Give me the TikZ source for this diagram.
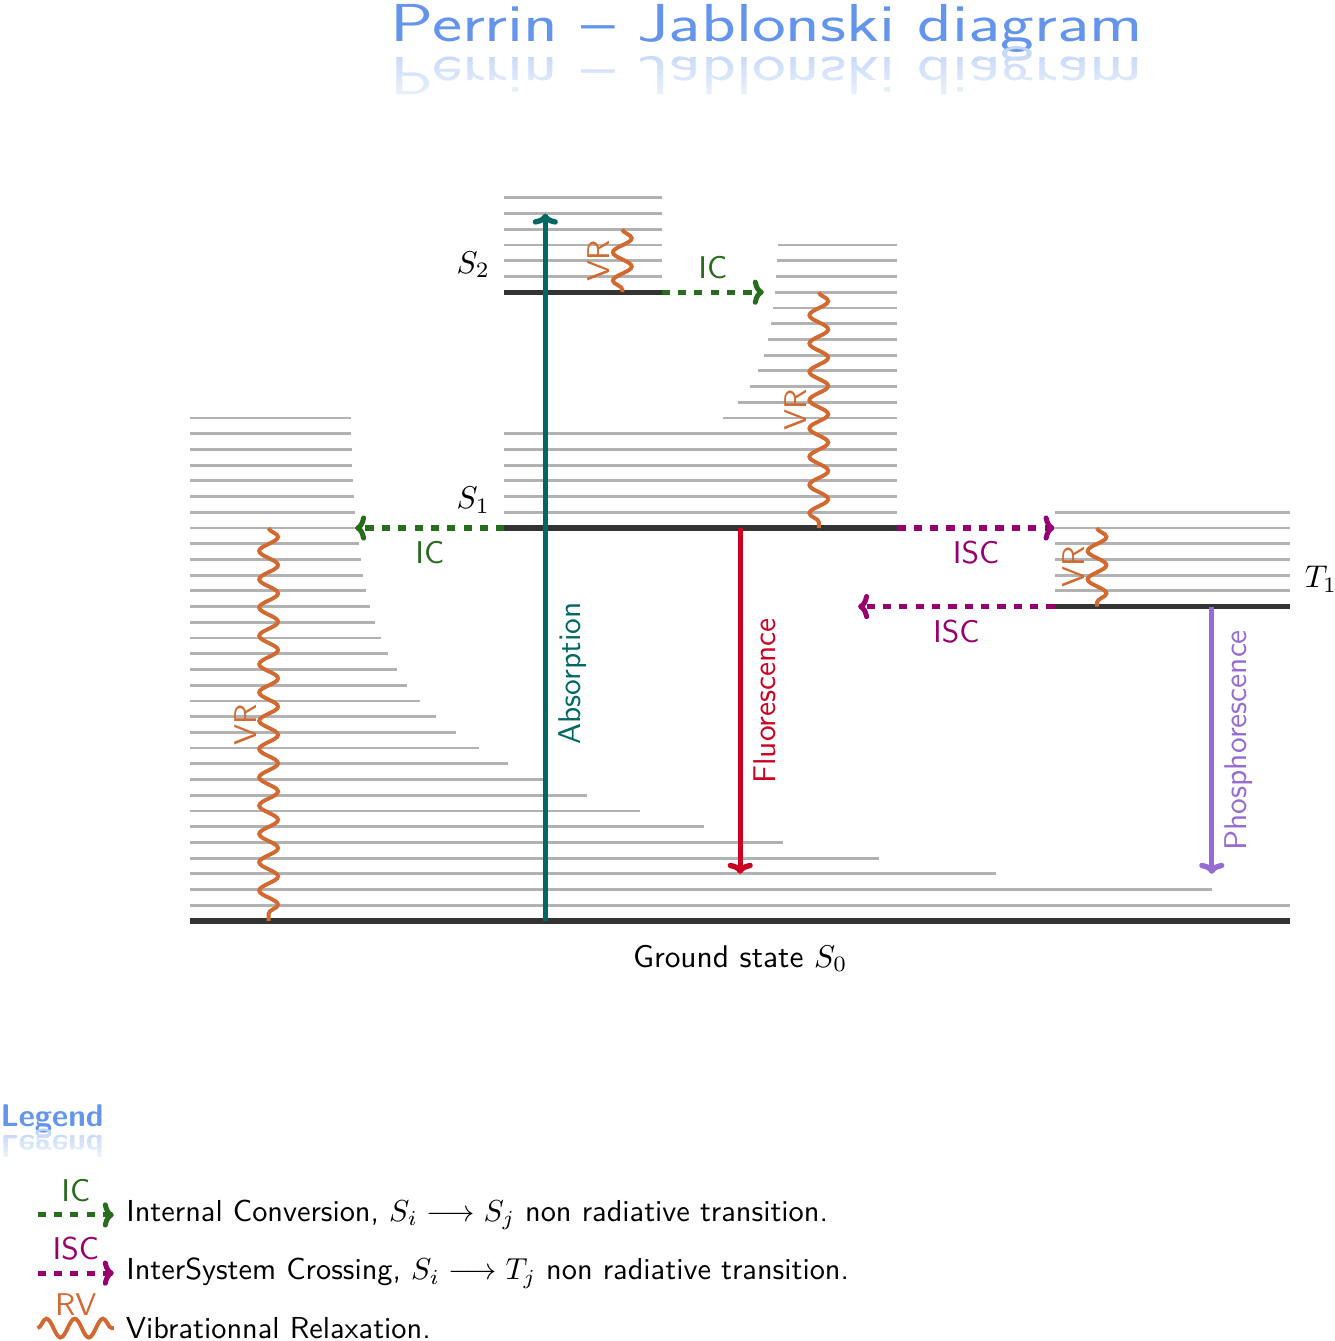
\documentclass[tikz,border=0pt]{standalone}
\usepackage{tikz}
\usetikzlibrary{positioning, decorations.pathmorphing, arrows.meta}
\definecolor{titleblue}{RGB}{100,149,237}
\definecolor{icgreen}{RGB}{40,108,30}
\definecolor{iscpurple}{RGB}{150,0,110}
\definecolor{vrorange}{RGB}{210,105,48}
\definecolor{absteal}{RGB}{0,104,100}
\definecolor{fluored}{RGB}{204,0,34}
\definecolor{phospurple}{RGB}{150,108,212}
\definecolor{leveldark}{RGB}{51,51,51}

\begin{document}
\begin{tikzpicture}[x=5pt, y=5pt, font=\sffamily,
    level/.style={leveldark, line width=1.6pt},
    vib/.style={gray!60, line width=0.9pt},
    tip/.style={-{To[length=3.5pt, width=8pt]}},
    ic/.style={icgreen, line width=1.6pt, dash pattern=on 2.6pt off 2.6pt, tip},
    isc/.style={iscpurple, line width=1.6pt, dash pattern=on 2.6pt off 2.6pt, tip},
    vr/.style={vrorange, line width=1.25pt, decorate,
      decoration={snake, amplitude=3pt, segment length=9pt}},
    radiative/.style={line width=1.7pt, tip},
    titletext/.style={font=\sffamily\huge, xscale=1.1},
    legendtext/.style={font=\sffamily\bfseries},
    legendentry/.style={right, black, scale=0.965}]
  \useasboundingbox (-12.09,-26.72) rectangle (72.83,58.59);

  % Title with its reflection
  \node[titletext, text=titleblue, anchor=base, yscale=0.82] (title) at (36.7,55.98) {Perrin -- Jablonski diagram};
  \foreach \i in {0,...,9} {
    \pgfmathsetmacro{\fade}{40-3.4*\i}
    \begin{scope}
      \clip (0,{55.8-0.4*\i}) rectangle (72,{55.35-0.4*\i});
      \node[titletext, text=titleblue!\fade!white, anchor=base, yscale=-0.82] (titlemirror\i) at (36.7,54.96) {Perrin -- Jablonski diagram};
    \end{scope}
  }

  % Electronic levels
  \coordinate (S0l) at (0,0);   \coordinate (S0r) at (70,0);
  \coordinate (S1l) at (20,25); \coordinate (S1r) at (45,25);
  \coordinate (S2l) at (20,40); \coordinate (S2r) at (30,40);
  \coordinate (T1l) at (55,20); \coordinate (T1r) at (70,20);

  % Vibrational levels of S0
  \draw[vib] (0,1) -- (70,1);
  \draw[vib] (0,2) -- (65,2);
  \foreach \n in {3,...,32}
    \draw[vib] (0,\n) -- ({10.1+75*exp(-0.2*\n)},\n);

  % Vibrational levels of S1
  \foreach \n in {26,...,31}
    \draw[vib] (20,\n) -- (45,\n);
  \foreach \n in {32,...,43}
    \draw[vib] ({37.5-3.6*exp(-0.32*(\n-32))},\n) -- (45,\n);

  % Vibrational levels of S2 and T1
  \foreach \n in {41,...,46}
    \draw[vib] (20,\n) -- (30,\n);
  \foreach \n in {21,...,26}
    \draw[vib] (55,\n) -- (70,\n);

  \draw[level] (S0l) -- node[midway, below=3.5pt, black] (ground) {Ground state $S_0$} (S0r);
  \draw[level] (S1l) -- (S1r);
  \draw[level] (S2l) -- (S2r);
  \draw[level] (T1l) -- (T1r);
  \node[above left=1.5pt] (S1lab) at (S1l) {$S_1$};
  \node[above left=1.5pt] (S2lab) at (S2l) {$S_2$};
  \node[above right=1.5pt] (T1lab) at (T1r) {$T_1$};

  % Radiative transitions
  \coordinate (absbot) at (22.6,0);  \coordinate (abstop) at (22.6,45);
  \coordinate (flutop) at (35,25);   \coordinate (flubot) at (35,3);
  \coordinate (phostop) at (65,20);  \coordinate (phosbot) at (65,3);
  \draw[radiative, absteal] (absbot) -- node[pos=.35, rotate=90, anchor=north] (abslab) {Absorption} (abstop);
  \draw[radiative, fluored] (flutop) -- node[midway, rotate=90, anchor=north] (flulab) {Fluorescence} (flubot);
  \draw[radiative, phospurple] (phostop) -- node[midway, rotate=90, anchor=north] (phoslab) {Phosphorescence} (phosbot);

  % Non radiative transitions
  \coordinate (icleft) at (10.5,25);
  \coordinate (icright) at (36.5,40);
  \coordinate (iscright) at (55,25);
  \coordinate (iscleft) at (42.5,20);
  \draw[ic] (S1l) -- node[midway, below] (iclab1) {IC} (icleft);
  \draw[ic] (S2r) -- node[midway, above] (iclab2) {IC} (icright);
  \draw[isc] (S1r) -- node[midway, below] (isclab1) {ISC} (iscright);
  \draw[isc] (T1l) -- node[midway, below] (isclab2) {ISC} (iscleft);

  % Vibrational relaxation
  \draw[vr] (5,25) -- node[midway, rotate=90, anchor=south] (vrlab1) {VR} (5,0);
  \draw[vr] (27.5,44) -- node[midway, rotate=90, anchor=south] (vrlab2) {VR} (27.5,40);
  \draw[vr] (40,40) -- node[midway, rotate=90, anchor=south] (vrlab3) {VR} (40,25);
  \draw[vr] (57.7,25) -- node[midway, rotate=90, anchor=south] (vrlab4) {VR} (57.7,20);

  % Legend
  \node[legendtext, text=titleblue, anchor=base west, inner sep=0pt] (legend) at (-12.09,-13.1) {Legend};
  \foreach \i in {0,...,6} {
    \pgfmathsetmacro{\fade}{40-5*\i}
    \begin{scope}
      \clip (-12.2,{-13.2-0.3*\i}) rectangle (0,{-13.53-0.3*\i});
      \node[legendtext, text=titleblue!\fade!white, anchor=base west, inner sep=0pt, yscale=-1] (legendmirror\i) at (-12.09,-13.65) {Legend};
    \end{scope}
  }

  \coordinate (legIC) at (-9.7,-18.7);
  \coordinate (legISC) at (-9.7,-22.4);
  \coordinate (legVR) at (-9.7,-25.9);
  \draw[ic] (legIC) -- node[midway, above] (legIClab) {IC} ++(4.85,0)
    node[legendentry] (legICtxt) {Internal Conversion, $S_i \longrightarrow S_j$ non radiative transition.};
  \draw[isc] (legISC) -- node[midway, above] (legISClab) {ISC} ++(4.85,0)
    node[legendentry] (legISCtxt) {InterSystem Crossing, $S_i \longrightarrow T_j$ non radiative transition.};
  \draw[vr] (legVR) -- node[midway, above] (legVRlab) {RV} ++(4.85,0)
    node[legendentry] (legVRtxt) {Vibrationnal Relaxation.};
\end{tikzpicture}
\end{document}
